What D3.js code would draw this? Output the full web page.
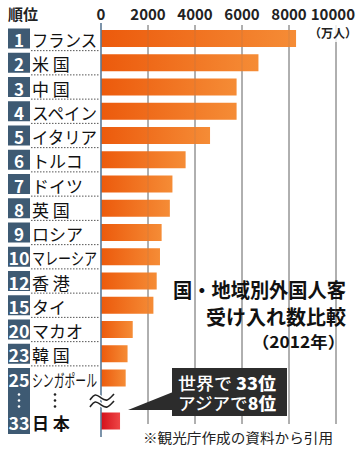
<!DOCTYPE html>
<html>
<head>
<meta charset="utf-8">
<script src="https://cdn.jsdelivr.net/npm/d3@7/dist/d3.min.js"></script>
<style>
  html, body { margin: 0; padding: 0; background: #fff; }
  svg { display: block; font-family: "Noto Sans CJK JP", "Noto Sans", sans-serif; }
</style>
</head>
<body>
<svg id="chart" width="360" height="450"></svg>
<script>
// Data: foreign visitor arrivals, 2012 (10,000 persons)
const ranks = [1, 2, 3, 4, 5, 6, 7, 8, 9, 10, 12, 15, 20, 23, 25];
const countries = ["フランス", "米 国", "中 国", "スペイン", "イタリア", "トルコ", "ドイツ", "英 国",
                   "ロシア", "マレーシア", "香 港", "タイ", "マカオ", "韓 国", "シンガポール"];
const visitors = [8300, 6700, 5770, 5770, 4640, 3600, 3040, 2930, 2580, 2510, 2370, 2230, 1350, 1130, 1050];
const japan = { rank: 33, name: "日 本", value: 810 };
const ticks = [0, 2000, 4000, 6000, 8000, 10000];
const titleLines = ["国・地域別外国人客", "受け入れ数比較", "（2012年）"];
const note = "※観光庁作成の資料から引用";

const svg = d3.select("#chart");

const x = d3.scaleLinear().domain([0, 10000]).range([101, 336]);

// row centers: ranked rows, then a gap row (⋮), then Japan
const ROW0 = 38.5, PITCH = 24.25;
const rowY = i => ROW0 + i * PITCH;
const japanY = rowY(ranks.length - 1) + 43;
const BAR_H = 17, BADGE_H = 20;

// gradients
const defs = svg.append("defs");
const og = defs.append("linearGradient").attr("id", "orange");
og.append("stop").attr("offset", "0%").attr("stop-color", "#ec5a0c");
og.append("stop").attr("offset", "100%").attr("stop-color", "#f58c36");
const rg = defs.append("linearGradient").attr("id", "red");
rg.append("stop").attr("offset", "0%").attr("stop-color", "#d40f1a");
rg.append("stop").attr("offset", "100%").attr("stop-color", "#ee4646");

// header
svg.append("text").attr("x", 8).attr("y", 20)
  .attr("font-size", 15).attr("font-weight", 700).attr("fill", "#222").text("順位");

svg.selectAll(".tick").data(ticks).join("text")
  .attr("class", "tick")
  .attr("x", d => d === 10000 ? 355 : x(d))
  .attr("y", 20)
  .attr("text-anchor", d => d === 10000 ? "end" : "middle")
  .attr("font-size", 15).attr("font-weight", 700).attr("fill", "#222")
  .text(d => d);

svg.append("text").attr("x", 333).attr("y", 38).attr("text-anchor", "middle")
  .attr("font-size", 12).attr("font-weight", 700).attr("fill", "#222").text("（万人）");

// gridlines
const grid = svg.append("g");
grid.selectAll("line").data(ticks.slice(1)).join("line")
  .attr("x1", d => x(d)).attr("x2", d => x(d))
  .attr("y1", d => d === 10000 ? 42 : 25).attr("y2", 424)
  .attr("stroke", "#6e6e6e").attr("stroke-width", 1);

// bars
svg.selectAll(".bar").data(visitors).join("rect")
  .attr("class", "bar")
  .attr("x", x(0)).attr("y", (d, i) => rowY(i) - BAR_H / 2)
  .attr("width", d => x(d) - x(0)).attr("height", BAR_H)
  .attr("fill", "url(#orange)");

svg.append("rect")
  .attr("x", x(0)).attr("y", japanY - BAR_H / 2)
  .attr("width", x(japan.value) - x(0)).attr("height", BAR_H)
  .attr("fill", "url(#red)");

// faint gridlines through the bars
svg.append("g").selectAll("line").data(ticks.slice(1)).join("line")
  .attr("x1", d => x(d)).attr("x2", d => x(d))
  .attr("y1", 25).attr("y2", 424)
  .attr("stroke", "#6e6e6e").attr("stroke-opacity", 0.2);

// zero axis
svg.append("line").attr("x1", x(0)).attr("x2", x(0)).attr("y1", 23).attr("y2", 437)
  .attr("stroke", "#5b7995").attr("stroke-width", 1.6);

// dotted separators in the label column
svg.append("g").selectAll("line").data(d3.range(1, ranks.length)).join("line")
  .attr("x1", 31).attr("x2", 100)
  .attr("y1", i => (rowY(i - 1) + rowY(i)) / 2).attr("y2", i => (rowY(i - 1) + rowY(i)) / 2)
  .attr("stroke", "#555").attr("stroke-width", 1).attr("stroke-dasharray", "1.5,1.5");

// rank badges
const BADGE = "#3e5a73";
svg.selectAll(".badge").data(ranks.slice(0, -1)).join("rect")
  .attr("class", "badge")
  .attr("x", 8).attr("y", (d, i) => rowY(i) - BADGE_H / 2)
  .attr("width", 22).attr("height", BADGE_H).attr("fill", BADGE);
// last ranked row + gap + Japan share one block
const lastI = ranks.length - 1;
svg.append("rect").attr("x", 8).attr("y", rowY(lastI) - BADGE_H / 2)
  .attr("width", 22).attr("height", japanY + BADGE_H / 2 + 3 - (rowY(lastI) - BADGE_H / 2))
  .attr("fill", BADGE);

function badgeText(sel) {
  sel.attr("x", 19).attr("text-anchor", "middle")
    .attr("font-size", 17).attr("font-weight", 700).attr("fill", "#fff")
    .attr("dominant-baseline", "central")
    .each(function(d) {
      if (String(d).length > 1) d3.select(this).attr("textLength", 21).attr("lengthAdjust", "spacingAndGlyphs");
    });
}
svg.selectAll(".rank").data(ranks).join("text").attr("class", "rank")
  .attr("y", (d, i) => rowY(i) + 1).text(d => d).call(badgeText);
svg.append("text").datum(japan.rank).attr("y", japanY + 1).text(d => d).call(badgeText);

function nameText(sel) {
  sel.attr("x", 32).attr("font-size", 17).attr("fill", "#111")
    .attr("dominant-baseline", "central")
    .each(function() {
      if (this.getComputedTextLength() > 66) d3.select(this).attr("textLength", 65).attr("lengthAdjust", "spacingAndGlyphs");
    });
}
svg.selectAll(".name").data(countries).join("text").attr("class", "name")
  .attr("y", (d, i) => rowY(i) + 1).text(d => d).call(nameText);
svg.append("text").attr("y", japanY + 1).attr("font-weight", 700).text(japan.name).call(nameText);

// vertical ellipsis for the skipped ranks
const gapY = (rowY(lastI) + japanY) / 2 + 1;
[[19, "#fff"], [55, "#222"]].forEach(([cx, c]) => {
  svg.append("g").selectAll("circle").data([-6, 0, 6]).join("circle")
    .attr("cx", cx).attr("cy", d => gapY + d).attr("r", 1.3).attr("fill", c);
});

// axis break mark (≈)
const wave = d3.line().curve(d3.curveBasis);
[-3.5, 3.5].forEach(dy => {
  const pts = [[90, gapY + dy + 3], [95, gapY + dy - 4], [101, gapY + dy + 1], [107, gapY + dy + 5], [114, gapY + dy - 3]];
  svg.append("path").attr("d", wave(pts))
    .attr("fill", "none").attr("stroke", "#fff").attr("stroke-width", 4);
  svg.append("path").attr("d", wave(pts))
    .attr("fill", "none").attr("stroke", "#222").attr("stroke-width", 1.6);
});

// title
const title = svg.append("g").attr("font-weight", 700).attr("fill", "#111").attr("text-anchor", "end");
title.append("text").attr("x", 346).attr("y", 298).attr("font-size", 20)
  .attr("textLength", 173).attr("lengthAdjust", "spacingAndGlyphs").text(titleLines[0]);
title.append("text").attr("x", 346).attr("y", 325).attr("font-size", 20).text(titleLines[1]);
title.append("text").attr("x", 345).attr("y", 348).attr("font-size", 16)
  .attr("textLength", 93).attr("lengthAdjust", "spacingAndGlyphs").text(titleLines[2]);

// callout
const box = svg.append("g");
box.append("path")
  .attr("d", `M173,392 L128,${japanY - 11} L173,410 Z`).attr("fill", "#2c2c2c");
box.append("rect").attr("x", 172).attr("y", 368).attr("width", 115).attr("height", 48).attr("fill", "#2c2c2c");
const l1 = box.append("text").attr("x", 178).attr("y", 390).attr("font-size", 17).attr("fill", "#fff").attr("font-weight", 500)
  .attr("textLength", 98).attr("lengthAdjust", "spacingAndGlyphs");
l1.append("tspan").text("世界で ");
l1.append("tspan").attr("font-weight", 900).text(japan.rank + "位");
const l2 = box.append("text").attr("x", 178).attr("y", 410).attr("font-size", 17).attr("fill", "#fff").attr("font-weight", 500)
  .attr("textLength", 98).attr("lengthAdjust", "spacingAndGlyphs");
l2.append("tspan").text("アジアで");
l2.append("tspan").attr("font-weight", 900).text("8位");

// source note
svg.append("text").attr("x", 143).attr("y", 443).attr("font-size", 14).attr("fill", "#222")
  .attr("textLength", 190).attr("lengthAdjust", "spacingAndGlyphs").text(note);
</script>
</body>
</html>
